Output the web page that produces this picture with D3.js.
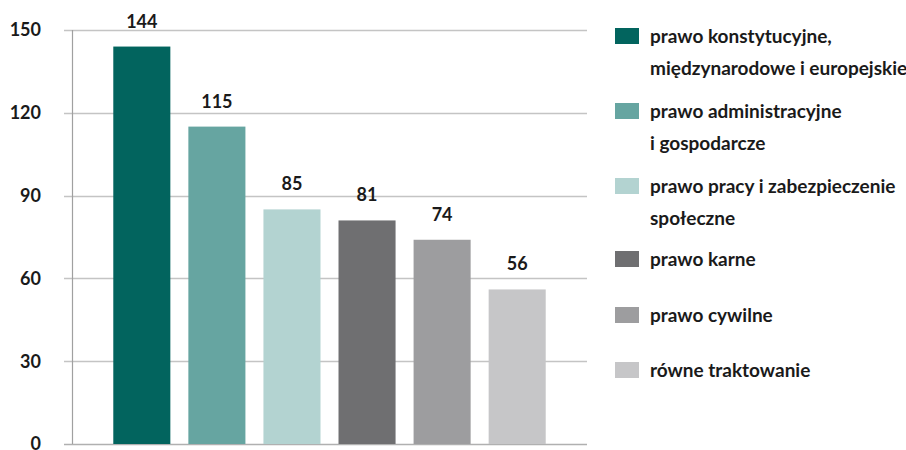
<!DOCTYPE html>
<html>
<head>
<meta charset="utf-8">
<script src="https://cdn.jsdelivr.net/npm/d3@7/dist/d3.min.js"></script>
<style>
  html, body { margin: 0; padding: 0; background: #fff; }
  svg { display: block; font-family: Lato, "Open Sans", sans-serif; }
</style>
</head>
<body>
<svg id="chart" width="906" height="450"></svg>
<script>
// Cases by area of law
const categories = [
  "prawo konstytucyjne, międzynarodowe i europejskie",
  "prawo administracyjne i gospodarcze",
  "prawo pracy i zabezpieczenie społeczne",
  "prawo karne",
  "prawo cywilne",
  "równe traktowanie"
];
const legendLines = [
  ["prawo konstytucyjne,", "międzynarodowe i europejskie"],
  ["prawo administracyjne", "i gospodarcze"],
  ["prawo pracy i zabezpieczenie", "społeczne"],
  ["prawo karne"],
  ["prawo cywilne"],
  ["równe traktowanie"]
];
const values = [144, 115, 85, 81, 74, 56];
const colors = ["#02645e", "#66a5a1", "#b3d3d1", "#6f6f71", "#9d9d9f", "#c6c6c8"];
const yTicks = [0, 30, 60, 90, 120, 150];

const svg = d3.select("#chart");
const plot = { left: 72, right: 587, top: 30, bottom: 444 };

const x = d3.scaleBand()
  .domain(categories)
  .range([plot.left, plot.right])
  .paddingInner(0.24)
  .paddingOuter(0.55);

const y = d3.scaleLinear()
  .domain([0, 150])
  .range([plot.bottom, plot.top]);

// horizontal gridlines
svg.append("g")
  .selectAll("line")
  .data(yTicks)
  .join("line")
  .attr("x1", 64)
  .attr("x2", plot.right)
  .attr("y1", d => Math.round(y(d)) + 0.5)
  .attr("y2", d => Math.round(y(d)) + 0.5)
  .attr("stroke", d => d === 0 ? "#b0b0b0" : "#c4c4c4")
  .attr("stroke-width", 1.5);

// y tick labels
svg.append("g")
  .selectAll("text")
  .data(yTicks)
  .join("text")
  .attr("x", 41)
  .attr("y", d => y(d))
  .attr("dy", "0.35em")
  .attr("text-anchor", "end")
  .attr("font-size", 18)
  .attr("font-weight", 700)
  .attr("fill", "#1a1a1a")
  .text(d => d);

// vertical axis line
svg.append("line")
  .attr("x1", plot.left + 0.5)
  .attr("x2", plot.left + 0.5)
  .attr("y1", plot.top)
  .attr("y2", plot.bottom)
  .attr("stroke", "#a0a0a0")
  .attr("stroke-width", 1.2);

// bars
svg.append("g")
  .selectAll("rect")
  .data(values)
  .join("rect")
  .attr("x", (d, i) => x(categories[i]))
  .attr("width", x.bandwidth())
  .attr("y", d => y(d))
  .attr("height", d => y(0) - y(d))
  .attr("fill", (d, i) => colors[i]);

// value labels
svg.append("g")
  .selectAll("text")
  .data(values)
  .join("text")
  .attr("x", (d, i) => x(categories[i]) + x.bandwidth() / 2)
  .attr("y", d => y(d) - 19)
  .attr("text-anchor", "middle")
  .attr("font-size", 18)
  .attr("font-weight", 700)
  .attr("fill", "#1a1a1a")
  .text(d => d);

// legend
const legendTops = [28, 103, 178, 251, 307, 362];
const legend = svg.append("g")
  .selectAll("g")
  .data(categories)
  .join("g")
  .attr("transform", (d, i) => `translate(615,${legendTops[i]})`);

legend.append("rect")
  .attr("width", 24)
  .attr("height", 16)
  .attr("fill", (d, i) => colors[i]);

legend.append("text")
  .attr("x", 35)
  .attr("y", 15)
  .attr("font-size", 19)
  .attr("font-weight", 700)
  .attr("fill", "#1a1a1a")
  .selectAll("tspan")
  .data((d, i) => legendLines[i])
  .join("tspan")
  .attr("x", 35)
  .attr("dy", (d, j) => j === 0 ? 0 : 32)
  .text(d => d);
</script>
</body>
</html>
